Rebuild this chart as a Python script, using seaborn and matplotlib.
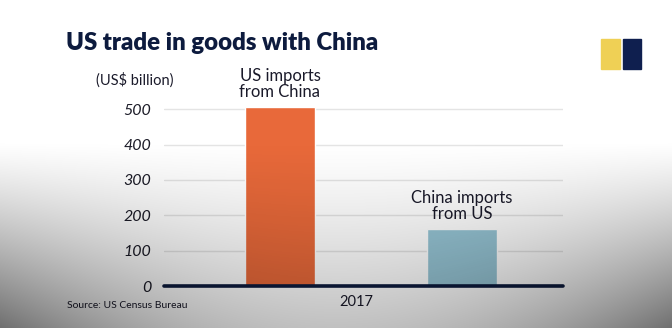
import numpy as np
import pandas as pd
import matplotlib
matplotlib.use("Agg")
import matplotlib.pyplot as plt
from matplotlib.patches import Rectangle
import seaborn as sns

# Trade flows in 2017 (US$ billion)
categories = ["US imports\nfrom China", "China imports\nfrom US"]
values = [505.5, 160.0]
bar_colors = ["#e8693a", "#96c5d5"]
year_label = "2017"
yticks = [0, 100, 200, 300, 400, 500]

sns.set_theme(style="white")
plt.rcParams["font.family"] = ["Lato", "DejaVu Sans"]

NAVY = "#0d1b3e"
W, H = 672, 328
fig = plt.figure(figsize=(W / 100, H / 100), dpi=100)
fig.patch.set_facecolor("white")

ax = fig.add_axes([164 / W, 42 / H, 399 / W, 198 / H])
ax.set_facecolor("none")
df = pd.DataFrame({"flow": categories, "value": values})
sns.barplot(data=df, x="flow", y="value", hue="flow", palette=bar_colors,
            width=0.385, legend=False, ax=ax, saturation=1, zorder=2)
ax.set_xlim(-0.637, 1.555)
ax.set_ylim(0, 560)

for y in yticks[1:]:
    ax.axhline(y, color="#e4e4e4", lw=1.0, zorder=1)
ax.axhline(0, color=NAVY, lw=2.6, zorder=3, clip_on=False)

ax.set_yticks(yticks)
ax.set_yticklabels([str(t) for t in yticks], fontstyle="italic",
                   fontsize=11.5, color="#1c1c28")
ax.tick_params(axis="y", length=0, pad=9)
ax.set_xticks([])
ax.set_xlabel("")
ax.set_ylabel("")
for s in ax.spines.values():
    s.set_visible(False)

for i, (lab, v) in enumerate(zip(categories, values)):
    ax.text(i, v + 20, lab, ha="center", va="bottom", fontsize=12,
            color="#1a1a2a", linespacing=1.05)

fig.text(66 / W, 1 - 43 / H, "US trade in goods with China", fontsize=17.3,
         fontweight="heavy", color=NAVY, va="center", ha="left")
fig.text(135 / W, 1 - 80 / H, "(US$ billion)", fontsize=10.5,
         color="#1a1a2a", ha="center", va="center")
fig.text(356 / W, 1 - 302 / H, year_label, fontsize=10.5, color="#1a1a2a",
         ha="center", va="center")
fig.text(67 / W, 1 - 305 / H, "Source: US Census Bureau", fontsize=7.5,
         color="#1a1a2a", ha="left", va="center")

# brand mark
fig.patches.append(Rectangle((601 / W, 1 - 69 / H), 19 / W, 30 / H,
                             transform=fig.transFigure, color="#efd055",
                             figure=fig))
fig.patches.append(Rectangle((623 / W, 1 - 69 / H), 18 / W, 30 / H,
                             transform=fig.transFigure, color="#0f1f4f",
                             figure=fig))

# grey vignette toward the bottom edge
yy, xx = np.mgrid[0:H, 0:W]
t = np.clip((yy - 140) / (H - 140), 0, 1) ** 1.2
d = np.abs(xx - W / 2) / (W / 2)
alpha = t * (0.25 + 0.32 * d ** 2)
shade = np.zeros((H, W, 4))
shade[..., 3] = alpha
oax = fig.add_axes([0, 0, 1, 1], zorder=10)
oax.imshow(shade, extent=[0, 1, 0, 1], aspect="auto", interpolation="bilinear")
oax.axis("off")

fig.savefig("out.png", dpi=100)
